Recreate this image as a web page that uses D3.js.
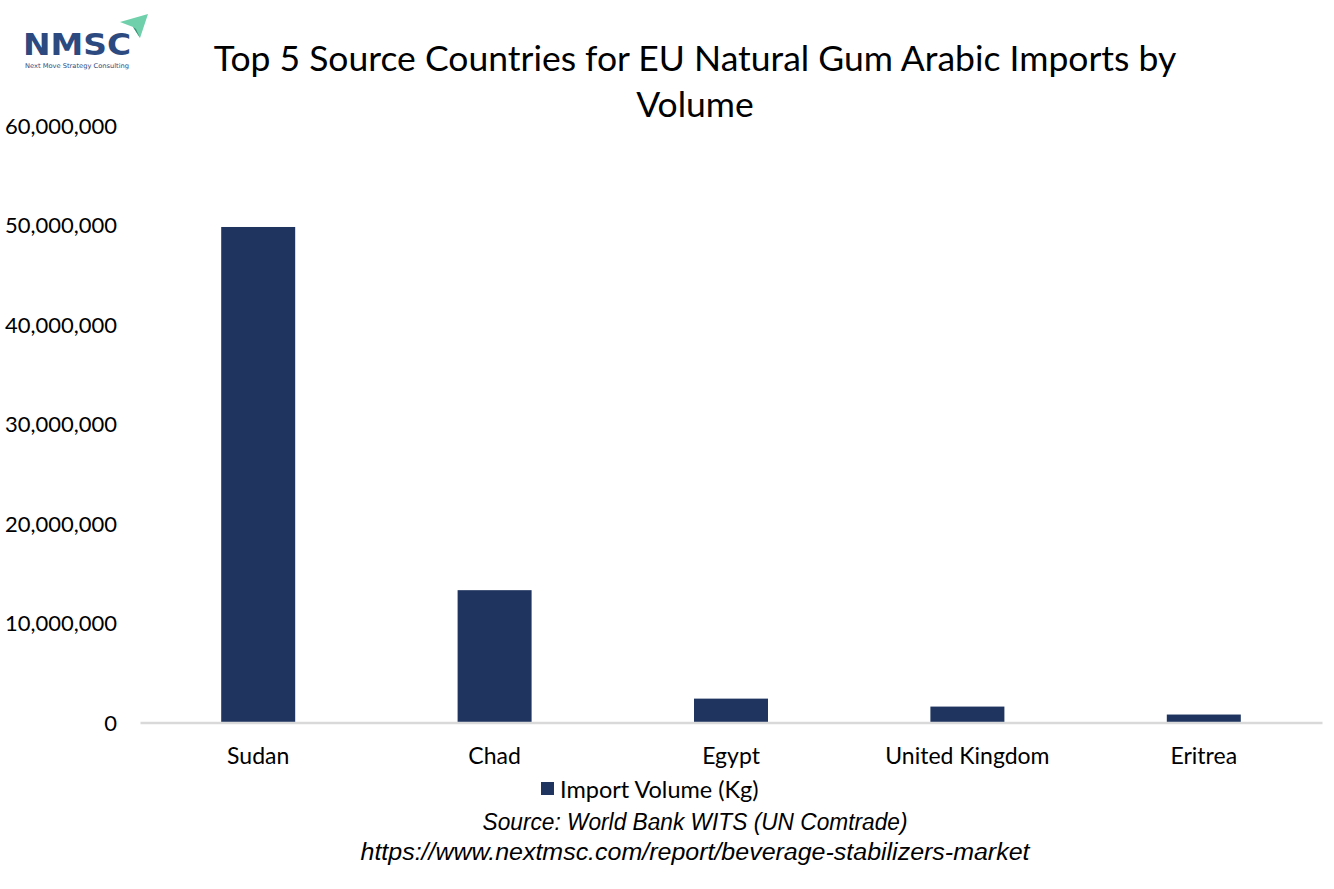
<!DOCTYPE html>
<html>
<head>
<meta charset="utf-8">
<script src="https://cdn.jsdelivr.net/npm/d3@7"></script>
<style>
  html, body { margin: 0; padding: 0; background: #ffffff; }
  svg { display: block; }
</style>
</head>
<body>
<svg id="chart" width="1334" height="889"></svg>
<script>
// ---- Data ----
const categories = ["Sudan", "Chad", "Egypt", "United Kingdom", "Eritrea"];
const importVolume = [49800000, 13300000, 2400000, 1600000, 800000];
const yTicks = [0, 10000000, 20000000, 30000000, 40000000, 50000000, 60000000];
const seriesName = "Import Volume (Kg)";
const titleLines = ["Top 5 Source Countries for EU Natural Gum Arabic Imports by", "Volume"];
const sourceLines = ["Source: World Bank WITS (UN Comtrade)", "https://www.nextmsc.com/report/beverage-stabilizers-market"];

const svg = d3.select("#chart");
const textFont = "Lato, 'Open Sans', sans-serif";
const barColor = "#1f3560";

const x = d3.scaleBand()
  .domain(categories)
  .range([140, 1322])
  .paddingInner(0.687)
  .paddingOuter(0.3435);

const y = d3.scaleLinear()
  .domain([0, 60000000])
  .range([722.5, 125.5]);

// Y axis labels
const yAxis = d3.axisLeft(y).tickValues(yTicks).tickFormat(d3.format(",")).tickSize(0).tickPadding(0);
const yg = svg.append("g").attr("transform", "translate(117,0)").call(yAxis);
yg.select(".domain").remove();
yg.selectAll("text")
  .attr("font-family", textFont)
  .attr("font-size", 22)
  .attr("fill", "#000")
  .attr("dy", "0.35em");

// Bars
svg.append("g").selectAll("rect")
  .data(categories.map((c, i) => ({c, v: importVolume[i]})))
  .join("rect")
  .attr("x", d => x(d.c))
  .attr("width", x.bandwidth())
  .attr("y", d => y(d.v))
  .attr("height", d => y(0) - y(d.v))
  .attr("fill", barColor);

// X axis
const xAxis = d3.axisBottom(x).tickSize(0).tickPadding(0);
const xg = svg.append("g").attr("transform", `translate(0,${y(0)})`).call(xAxis);
xg.select(".domain").attr("stroke", "#d9d9d9").attr("stroke-width", 2.5);
xg.selectAll("text")
  .attr("font-family", textFont)
  .attr("font-size", 23)
  .attr("fill", "#000")
  .attr("y", 33)
  .attr("dy", "0.35em");

// Title
svg.append("g").selectAll("text")
  .data(titleLines)
  .join("text")
  .attr("x", 695)
  .attr("y", (d, i) => 57 + i * 46)
  .attr("text-anchor", "middle")
  .attr("dominant-baseline", "central")
  .attr("font-family", textFont)
  .attr("font-size", 35.5)
  .attr("fill", "#000")
  .text(d => d);

// Legend
const lg = svg.append("g");
lg.append("rect").attr("x", 541).attr("y", 782).attr("width", 13).attr("height", 13).attr("fill", barColor);
lg.append("text").attr("x", 560).attr("y", 788.5).attr("dominant-baseline", "central")
  .attr("font-family", textFont).attr("font-size", 23.5).attr("fill", "#000").text(seriesName);

// Source
const sourceWidths = [425, 669];
svg.append("g").selectAll("text")
  .data(sourceLines)
  .join("text")
  .attr("x", 695)
  .attr("y", (d, i) => 822 + i * 30)
  .attr("text-anchor", "middle")
  .attr("dominant-baseline", "central")
  .attr("font-family", "'Liberation Sans', Arial, sans-serif")
  .attr("font-style", "italic")
  .attr("font-size", 23)
  .attr("textLength", (d, i) => sourceWidths[i])
  .attr("lengthAdjust", "spacingAndGlyphs")
  .attr("fill", "#000")
  .text(d => d);

// Logo
const logo = svg.append("g");
logo.append("polygon")
  .attr("points", "120,22 148,14 140,38 133,27")
  .attr("fill", "#6fd0ab");
logo.append("polygon")
  .attr("points", "133,27 140,38 136,29")
  .attr("fill", "#3a8f74");
logo.append("text")
  .attr("x", 23).attr("y", 55)
  .attr("font-family", "'DejaVu Sans', sans-serif")
  .attr("font-weight", "bold")
  .attr("font-size", 31)
  .attr("textLength", 108)
  .attr("lengthAdjust", "spacingAndGlyphs")
  .attr("fill", "#2c4a80")
  .text("NMSC");
logo.append("text")
  .attr("x", 25).attr("y", 68)
  .attr("font-family", "'DejaVu Sans', sans-serif")
  .attr("font-size", 6.5)
  .attr("textLength", 104)
  .attr("lengthAdjust", "spacingAndGlyphs")
  .attr("fill", "#2c4a80")
  .text("Next Move Strategy Consulting");
</script>
</body>
</html>
